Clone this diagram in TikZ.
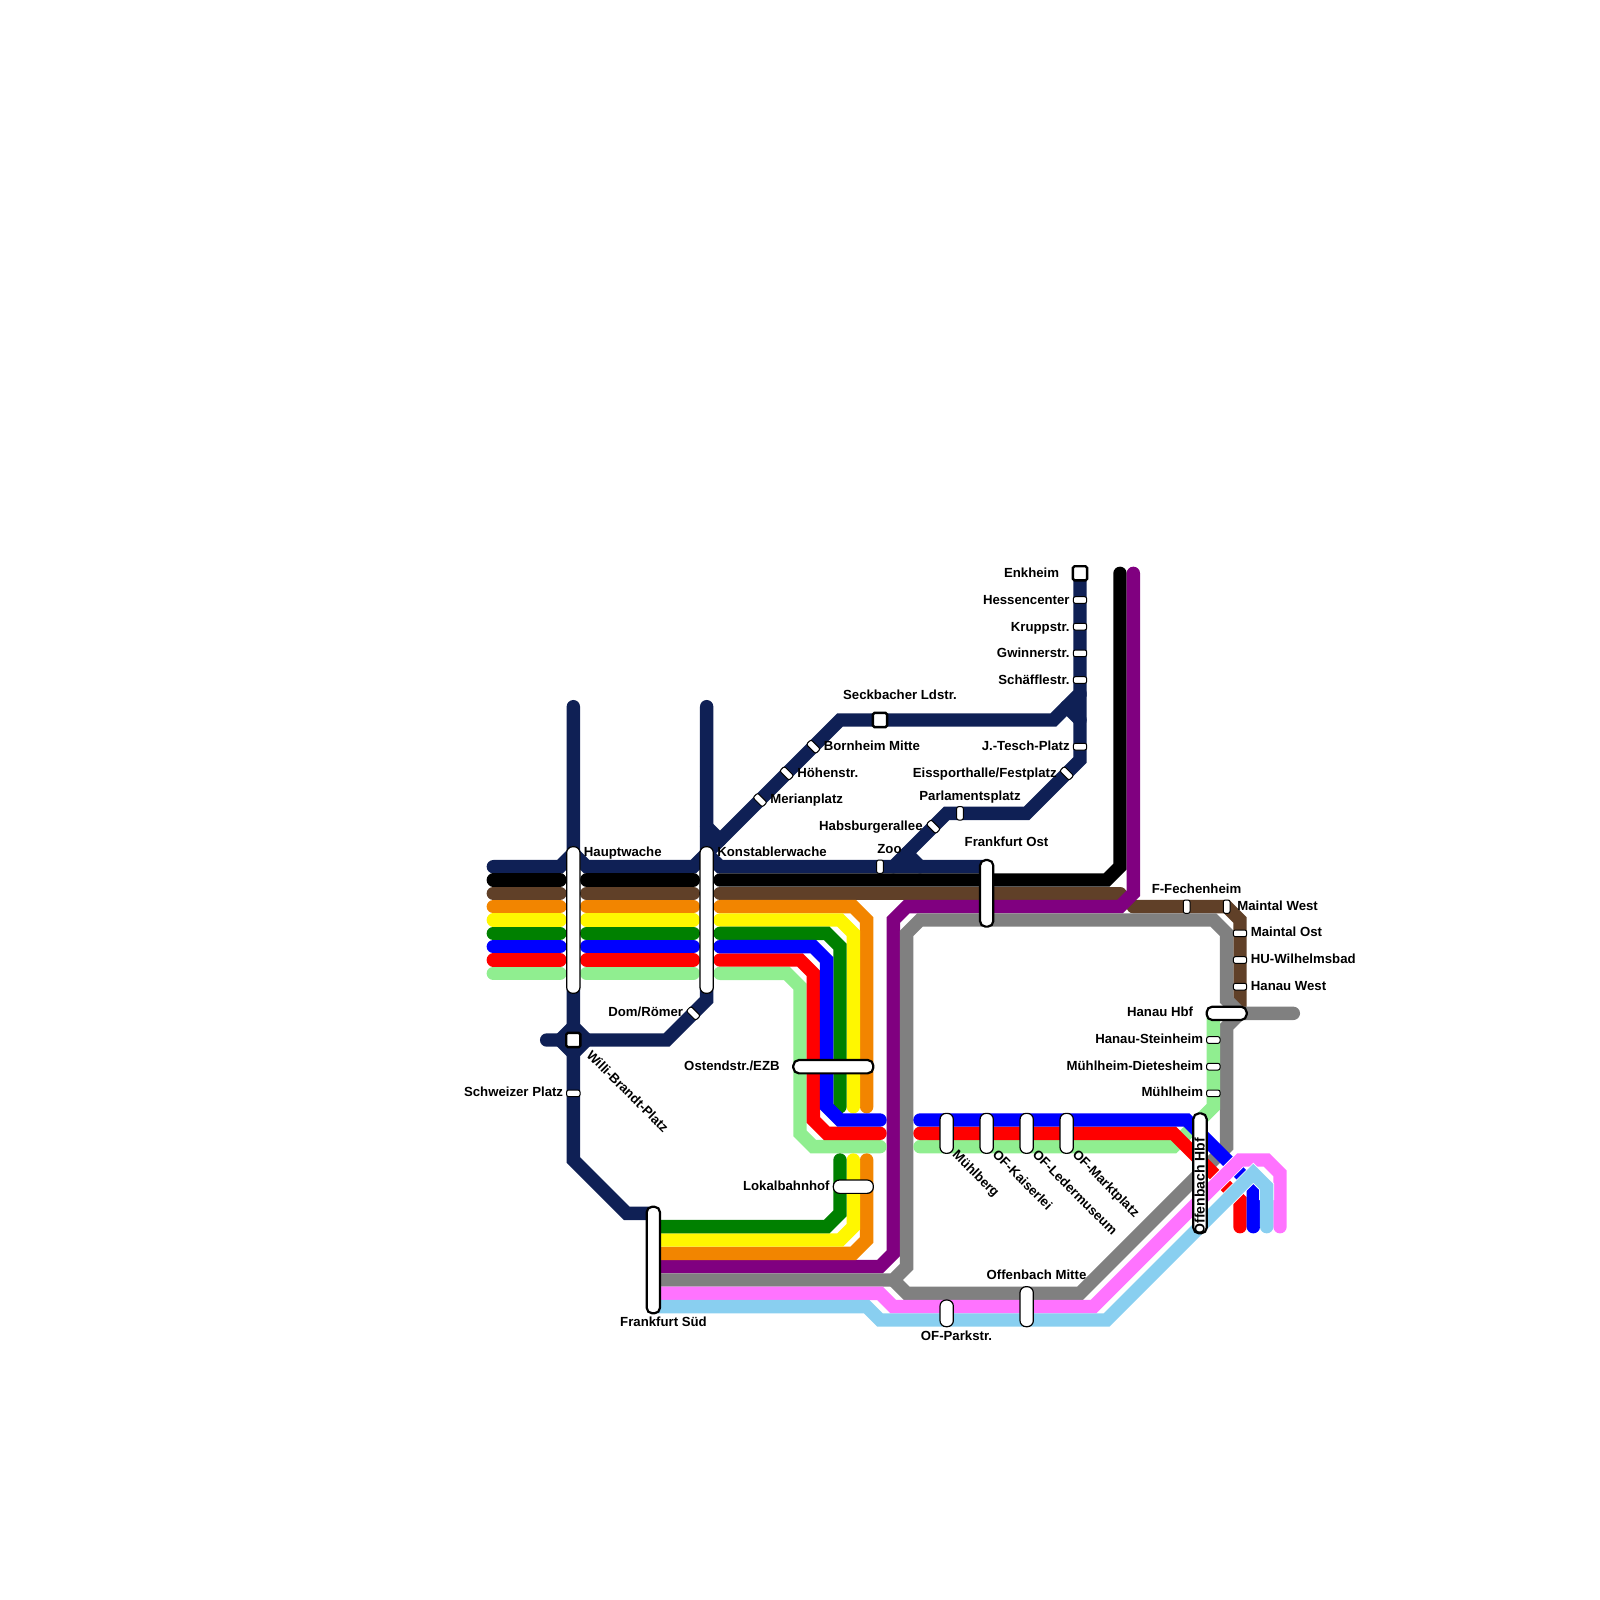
\documentclass[tikz,border=0pt]{standalone}
\usepackage{fontspec}
\setmainfont{Liberation Sans}
\definecolor{navy}{HTML}{0F2055}
\definecolor{brn}{HTML}{604028}
\definecolor{org}{HTML}{F28500}
\definecolor{yel}{HTML}{FFF700}
\definecolor{grn}{HTML}{008000}
\definecolor{blu}{HTML}{0000FF}
\definecolor{rd}{HTML}{FF0000}
\definecolor{lgr}{HTML}{90EE90}
\definecolor{pur}{HTML}{800080}
\definecolor{gry}{HTML}{808080}
\definecolor{pnk}{HTML}{FF73FF}
\definecolor{lbl}{HTML}{89CFF0}
\tikzset{
  metro/.style={line width=6.7pt,line cap=round,line join=miter,draw=#1},
  casing/.style={line width=7.5pt,line cap=butt,line join=miter,draw=white},
  tick/.style={draw=black,fill=white,line width=.5pt,rounded corners=1pt,inner sep=0,
    minimum width=6.667pt,minimum height=3.333pt},
  square/.style={draw=black,fill=white,line width=1.2pt,rounded corners=.8pt,inner sep=0,
    minimum width=7.1pt,minimum height=7.1pt},
  thinst/.style={draw=black,fill=white,line width=.6pt,rounded corners=3.03pt,inner sep=0},
  thickst/.style={draw=black,fill=white,line width=1.1pt,rounded corners=2.78pt,inner sep=0},
  lab/.style={font=\bfseries\fontsize{6.6}{7}\selectfont,inner sep=0,text height=4.7pt,text depth=0pt,text=black},
}
\begin{document}
\begin{tikzpicture}[x=6.6667pt,y=-6.6667pt]
\useasboundingbox (0,0) rectangle (120,120);
% navy
\draw[metro=navy] (43,53)--(43,87)--(47,91)--(49,91);
\draw[metro=navy] (41,78)--(50,78)--(53,75)--(53,53);
\draw[metro=navy] (42,78)--(43,77)--(44,78)--(43,79)--cycle;
\draw[metro=navy] (37,65)--(42,65)--(43,64)--(44,65)--(52,65)--(53,64)--(63,54)--(79,54)--(81,52)--(81,43);
\draw[metro=navy] (53,64)--(54,65)--(69,65)--(74,65);
\draw[metro=navy] (67,65)--(71,61)--(77,61)--(81,57)--(81,52);
\draw[metro=navy] (68,64)--(69,65);
\draw[metro=navy] (80,53)--(81,54);
\draw[metro=navy] (53,62)--(54,63);
% stacked lines west of Konstablerwache
\foreach \a/\b in {37/42,44/52}{\draw[metro=black] (\a,66)--(\b,66);\draw[metro=brn] (\a,67)--(\b,67);
 \draw[metro=org] (\a,68)--(\b,68);\draw[metro=yel] (\a,69)--(\b,69);\draw[metro=grn] (\a,70)--(\b,70);
 \draw[metro=blu] (\a,71)--(\b,71);\draw[metro=rd] (\a,72)--(\b,72);\draw[metro=lgr] (\a,73)--(\b,73);}
\draw[metro=black] (54,66)--(83,66)--(84,65)--(84,43);
\draw[metro=brn] (54,67)--(84,67);
\draw[metro=brn] (85,68)--(92,68)--(93,69)--(93,76);
\draw[metro=pur] (85,43)--(85,67)--(84,68)--(68,68)--(67,69)--(67,94)--(66,95)--(49,95);
\draw[metro=gry] (49,96)--(67,96)--(68,95)--(68,70)--(69,69)--(91,69)--(92,70)--(92,75)--(93,76)--(97,76);
\draw[metro=gry] (67,96)--(68,97)--(81,97)--(92,86)--(92,77)--(93,76);
% light green
\draw[metro=lgr] (54,73)--(59,73)--(60,74)--(60,85)--(61,86)--(66,86);
\draw[metro=lgr] (91,76)--(91,83)--(88,86)--(69,86);
% orange yellow green upper and lower
\draw[metro=org] (54,68)--(64,68)--(65,69)--(65,83);
\draw[metro=yel] (54,69)--(63,69)--(64,70)--(64,83);
\draw[metro=grn] (54,70)--(62,70)--(63,71)--(63,83);
\draw[metro=org] (65,87)--(65,93)--(64,94)--(49,94);
\draw[metro=yel] (64,87)--(64,92)--(63,93)--(49,93);
\draw[metro=grn] (63,87)--(63,91)--(62,92)--(49,92);
% red blue
\draw[metro=rd] (54,72)--(60,72)--(61,73)--(61,84)--(62,85)--(66,85);
\draw[metro=blu] (54,71)--(61,71)--(62,72)--(62,83)--(63,84)--(66,84);
\draw[metro=rd] (69,85)--(88,85)--(93,90)--(93,92);
\draw[metro=blu] (69,84)--(89,84)--(94,89)--(94,92);
% pink, light blue
\draw[casing] (90,90)--(93,87);
\draw[metro=pnk] (49,97)--(66,97)--(67,98)--(82,98)--(93,87)--(95,87)--(96,88)--(96,92);
\draw[casing] (90.5,91.5)--(94,88)--(95,89)--(95,90);
\draw[metro=lbl] (49,98)--(65,98)--(66,99)--(83,99)--(94,88)--(95,89)--(95,92);
% long stations
\node[thinst,minimum width=6.667pt,minimum height=73.3pt] (hauptwache) at (43,69) {};
\node[thinst,minimum width=6.667pt,minimum height=73.3pt] (konstabler) at (53,69) {};
\node[thickst,minimum width=6.667pt,minimum height=33.3pt] (fost) at (74,67) {};
\node[thickst,minimum width=6.667pt,minimum height=53.3pt] (fsued) at (49,94.5) {};
\node[thickst,minimum width=6.667pt,minimum height=60pt] (ofhbf) at (90,88) {};
\node[thickst,minimum height=6.667pt,minimum width=20pt] (hanauhbf) at (92,76) {};
\node[thickst,minimum height=6.667pt,minimum width=40pt] (ostend) at (62.5,80) {};
\node[thinst,minimum height=6.667pt,minimum width=20pt] (lokal) at (64,89) {};
\node[thinst,minimum width=6.667pt,minimum height=20pt] (muehlberg) at (71,85) {};
\node[thinst,minimum width=6.667pt,minimum height=20pt] (kaiserlei) at (74,85) {};
\node[thinst,minimum width=6.667pt,minimum height=20pt] (leder) at (77,85) {};
\node[thinst,minimum width=6.667pt,minimum height=20pt] (markt) at (80,85) {};
\node[thinst,minimum width=6.667pt,minimum height=13.33pt] (parkstr) at (71,98.5) {};
\node[thinst,minimum width=6.667pt,minimum height=20pt] (ofmitte) at (77,98) {};
% squares
\node[square] (enkheim) at (81,43) {};
\node[square] (seckbach) at (66,54) {};
\node[square] (willi) at (43,78) {};
% ticks
\foreach \n/\p in {hess/45,krupp/47,gwinner/49,schaeffle/51,tesch/56}{\node[tick] (\n) at (81,\p) {};}
\node[tick] (schweizer) at (43,82) {};
\foreach \n/\p in {mo/70,hu/72,hw/74}{\node[tick] (\n) at (93,\p) {};}
\foreach \n/\p in {steinheim/78,dietesheim/80,muehlheim/82}{\node[tick] (\n) at (91,\p) {};}
\node[tick,rotate=90] (zoo) at (66,65) {};
\node[tick,rotate=90] (parl) at (72,61) {};
\node[tick,rotate=90] (fech) at (89,68) {};
\node[tick,rotate=90] (mw) at (92,68) {};
\node[tick,rotate=-45] (bornheim) at (61,56) {};
\node[tick,rotate=-45] (hoehen) at (59,58) {};
\node[tick,rotate=-45] (merian) at (57,60) {};
\node[tick,rotate=-45] (dom) at (52,76) {};
\node[tick,rotate=-45] (eiss) at (80,58) {};
\node[tick,rotate=-45] (habs) at (70,62) {};
% labels in pixel coordinates
\begin{scope}[x=.5pt,y=-.5pt]
\node[lab,anchor=east] (l1) at (1059.5,572.5) {Enkheim};
\node[lab,anchor=east] (l2) at (1070,600) {Hessencenter};
\node[lab,anchor=east] (l3) at (1070,626.5) {Kruppstr.};
\node[lab,anchor=east] (l4) at (1070,653) {Gwinnerstr.};
\node[lab,anchor=east] (l5) at (1070,679.5) {Schäfflestr.};
\node[lab,anchor=east] (l6) at (1070,746) {J.-Tesch-Platz};
\node[lab,anchor=east] (l7) at (1057,773) {Eissporthalle/Festplatz};
\node[lab] (l8) at (970,795.5) {Parlamentsplatz};
\node[lab] (l9) at (900,695) {Seckbacher Ldstr.};
\node[lab,anchor=west] (l10) at (823.5,746) {Bornheim Mitte};
\node[lab,anchor=west] (l11) at (797,772.5) {Höhenstr.};
\node[lab,anchor=west] (l12) at (770,799) {Merianplatz};
\node[lab,anchor=east] (l13) at (923,825.5) {Habsburgerallee};
\node[lab] (l14) at (889.5,848.5) {Zoo};
\node[lab] (l15) at (1006.5,842) {Frankfurt Ost};
\node[lab,anchor=west] (l16) at (583.5,852) {Hauptwache};
\node[lab,anchor=west] (l17) at (717,852) {Konstablerwache};
\node[lab,anchor=east] (l18) at (683.5,1012) {Dom/Römer};
\node[lab,anchor=east] (l19) at (780,1065.5) {Ostendstr./EZB};
\node[lab,anchor=east] (l20) at (563.5,1092) {Schweizer Platz};
\node[lab,anchor=west,rotate=-45] (l21) at (589,1052.5) {Willi-Brandt-Platz};
\node[lab,anchor=west,rotate=-45] (l22) at (955,1152) {Mühlberg};
\node[lab,anchor=west,rotate=-45] (l23) at (995,1152) {OF-Kaiserlei};
\node[lab,anchor=west,rotate=-45] (l24) at (1035,1152) {OF-Ledermuseum};
\node[lab,anchor=west,rotate=-45] (l25) at (1075,1152) {OF-Marktplatz};
\node[lab] (l26) at (1036.5,1275) {Offenbach Mitte};
\node[lab] (l27) at (956.5,1335.5) {OF-Parkstr.};
\node[lab] (l28) at (663.5,1322) {Frankfurt Süd};
\node[lab,anchor=east] (l29) at (830,1185.5) {Lokalbahnhof};
\node[lab] (l30) at (1196.5,888.5) {F-Fechenheim};
\node[lab,anchor=west] (l31) at (1237,905.5) {Maintal West};
\node[lab,anchor=west] (l32) at (1250.5,932) {Maintal Ost};
\node[lab,anchor=west] (l33) at (1250.5,959) {HU-Wilhelmsbad};
\node[lab,anchor=west] (l34) at (1250.5,985.5) {Hanau West};
\node[lab,anchor=east] (l35) at (1193.5,1012) {Hanau Hbf};
\node[lab,anchor=east] (l36) at (1203.5,1039) {Hanau-Steinheim};
\node[lab,anchor=east] (l37) at (1203.5,1065.5) {Mühlheim-Dietesheim};
\node[lab,anchor=east] (l38) at (1203.5,1092) {Mühlheim};
\node[lab,rotate=90,font=\bfseries\fontsize{7}{7.5}\selectfont] (l39) at (1200,1186) {Offenbach Hbf};
\end{scope}
\end{tikzpicture}
\end{document}
